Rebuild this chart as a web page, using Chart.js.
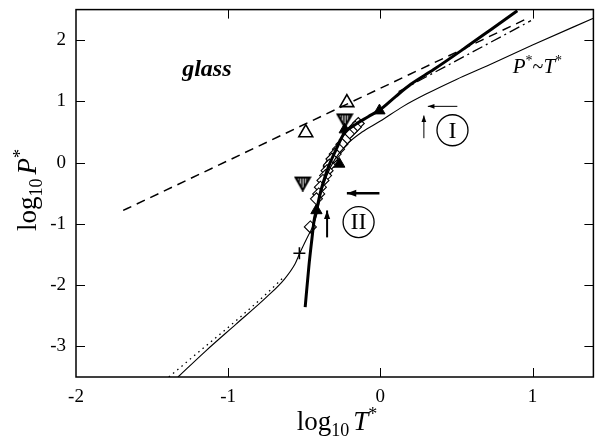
<!DOCTYPE html>
<html lang="en">
<head>
<meta charset="UTF-8">
<title>log P* vs log T*</title>
<style>
  html, body { margin: 0; padding: 0; background: #fff; }
  #wrap { width: 603px; height: 441px; }
</style>
</head>
<body>
<div id="wrap"><canvas id="chart" width="603" height="441"></canvas></div>
<script src="https://cdn.jsdelivr.net/npm/chart.js@4.4.0/dist/chart.umd.min.js"></script>
<script>
// tick labels
var xTicks = [-2, -1, 0, 1];
var yTicks = [-3, -2, -1, 0, 1, 2];

// thin solid curve
var thinX = [-1.33, -1.15, -0.95, -0.75, -0.63, -0.56, -0.53, -0.48, -0.448, -0.416, -0.39, -0.35, -0.3, -0.22, -0.12, 0.0, 0.15, 0.3, 0.5, 0.7, 1.0, 1.4];
var thinY = [-3.5, -3.08, -2.64, -2.2, -1.9, -1.65, -1.48, -1.22, -1.06, -0.83, -0.5, -0.2, 0.05, 0.3, 0.5, 0.68, 0.92, 1.12, 1.36, 1.58, 1.92, 2.36];

// dotted curve (low T)
var dotX = [-1.39, -1.15, -0.92, -0.74, -0.64];
var dotY = [-3.5, -3.0, -2.52, -2.12, -1.88];

// thick solid curve
var thickX = [-0.494, -0.47, -0.45, -0.435, -0.42, -0.39, -0.36, -0.33, -0.29, -0.24, -0.16, -0.08, 0.0, 0.1, 0.2, 0.35, 0.56, 0.73, 0.9];
var thickY = [-2.36, -1.7, -1.25, -0.94, -0.78, -0.45, -0.2, 0.0, 0.22, 0.47, 0.63, 0.75, 0.87, 1.08, 1.28, 1.52, 1.88, 2.18, 2.48];

// dashed line
var dashX = [-1.69, 0.97];
var dashY = [-0.78, 2.36];

// dash-dot line
var dashDotX = [0.12, 0.99];
var dashDotY = [1.16, 2.32];

// symbols
var diamondX = [-0.145, -0.165, -0.19, -0.21, -0.232, -0.253, -0.275, -0.297, -0.318, -0.335, -0.35, -0.36, -0.377, -0.394, -0.405, -0.42, -0.46];
var diamondY = [0.64, 0.58, 0.52, 0.47, 0.37, 0.3, 0.22, 0.14, 0.06, -0.04, -0.13, -0.21, -0.29, -0.4, -0.51, -0.59, -1.05];
var filledTriX = [-0.006, -0.234, -0.34, -0.27, -0.42];
var filledTriY = [0.85, 0.54, -0.02, -0.02, -0.78];
var openTriX = [-0.22, -0.49];
var openTriY = [0.98, 0.49];
var hatchTriX = [-0.234, -0.51];
var hatchTriY = [0.69, -0.34];
var plusX = [-0.532];
var plusY = [-1.48];

function pts(xs, ys) {
  return xs.map(function (x, i) { return { x: x, y: ys[i] }; });
}

// hatched down-pointing triangle as an image
function hatchTriangle() {
  var c = document.createElement('canvas');
  c.width = 18; c.height = 16;
  var g = c.getContext('2d');
  g.strokeStyle = '#000';
  g.lineWidth = 2.2;
  g.beginPath();
  g.moveTo(2, 2); g.lineTo(16, 2); g.lineTo(9, 14.5); g.closePath();
  g.stroke();
  g.lineWidth = 1.5;
  [[5.5, 6.5], [8, 11], [10.5, 11], [13, 6.5]].forEach(function (p) {
    g.beginPath();
    g.moveTo(p[0], 2);
    g.lineTo(p[0], p[1]);
    g.stroke();
  });
  return c;
}

var serif = '"Liberation Serif", "Times New Roman", serif';

function lineSet(xs, ys, width, dash) {
  return {
    type: 'line',
    data: pts(xs, ys),
    borderColor: '#000',
    borderWidth: width,
    borderDash: dash || [],
    pointRadius: 0,
    fill: false,
    cubicInterpolationMode: 'monotone',
    showLine: true
  };
}

function noPad(s) {
  s.paddingTop = 0; s.paddingBottom = 0; s.paddingLeft = 0; s.paddingRight = 0;
}

// annotations, axis titles, inward ticks and frame
var decor = {
  id: 'decor',
  afterDatasetsDraw: function (chart) {
    var ctx = chart.ctx, xs = chart.scales.x, ys = chart.scales.y, a = chart.chartArea;
    function X(v) { return xs.getPixelForValue(v); }
    function Y(v) { return ys.getPixelForValue(v); }
    ctx.save();
    ctx.strokeStyle = '#000';
    ctx.fillStyle = '#000';

    // frame
    ctx.lineWidth = 1.5;
    ctx.strokeRect(a.left, a.top, a.right - a.left, a.bottom - a.top);
    ctx.lineWidth = 1;
    xTicks.forEach(function (v) {
      var p = Math.round(X(v)) + 0.5;
      if (p <= a.left + 1) return;
      ctx.beginPath();
      ctx.moveTo(p, a.bottom); ctx.lineTo(p, a.bottom - 9);
      ctx.moveTo(p, a.top); ctx.lineTo(p, a.top + 9);
      ctx.stroke();
    });
    yTicks.forEach(function (v) {
      var p = Math.round(Y(v)) + 0.5;
      ctx.beginPath();
      ctx.moveTo(a.left, p); ctx.lineTo(a.left + 9, p);
      ctx.moveTo(a.right, p); ctx.lineTo(a.right - 9, p);
      ctx.stroke();
    });

    // text labels
    ctx.textBaseline = 'alphabetic';
    ctx.textAlign = 'center';
    ctx.font = 'italic bold 24px ' + serif;
    ctx.fillText('glass', X(-1.14), Y(1.42));

    // P*~T*
    var px = X(0.87), py = Y(1.47);
    ctx.textAlign = 'left';
    var parts = [['P', 'italic 21px', 0], ['*', '14px', -8], ['~', '20px', 0], ['T', 'italic 21px', 0], ['*', '14px', -8]];
    parts.forEach(function (p) {
      ctx.font = p[1] + ' ' + serif;
      ctx.fillText(p[0], px, py + p[2]);
      px += ctx.measureText(p[0]).width;
    });

    // arrows
    function arrow(x1, y1, x2, y2, w, head) {
      ctx.lineWidth = w;
      ctx.beginPath();
      ctx.moveTo(x1, y1); ctx.lineTo(x2, y2);
      ctx.stroke();
      var ang = Math.atan2(y2 - y1, x2 - x1);
      ctx.beginPath();
      ctx.moveTo(x2, y2);
      ctx.lineTo(x2 - head * Math.cos(ang - 0.35), y2 - head * Math.sin(ang - 0.35));
      ctx.lineTo(x2 - head * Math.cos(ang + 0.35), y2 - head * Math.sin(ang + 0.35));
      ctx.closePath();
      ctx.fill();
    }
    arrow(X(0.506), Y(0.92), X(0.312), Y(0.92), 1, 7);
    arrow(X(0.286), Y(0.40), X(0.286), Y(0.77), 1, 7);
    arrow(X(-0.006), Y(-0.5), X(-0.22), Y(-0.5), 2.5, 10);
    arrow(X(-0.35), Y(-1.22), X(-0.35), Y(-0.78), 2, 9);

    // circled labels
    function circled(cx, cy, txt) {
      ctx.lineWidth = 1.3;
      ctx.beginPath();
      ctx.arc(cx, cy, 15.5, 0, Math.PI * 2);
      ctx.stroke();
      ctx.font = '24px ' + serif;
      ctx.textAlign = 'center';
      ctx.textBaseline = 'middle';
      ctx.fillText(txt, cx, cy + 1);
      ctx.textBaseline = 'alphabetic';
    }
    circled(X(0.474), Y(0.53), 'I');
    circled(X(-0.143), Y(-0.97), 'II');

    // axis titles
    function title(segs, cx, base) {
      var w = 0;
      segs.forEach(function (s) { ctx.font = s[1] + ' ' + serif; w += ctx.measureText(s[0]).width + (s[3] || 0); });
      var x0 = cx - w / 2;
      ctx.textAlign = 'left';
      segs.forEach(function (s) {
        ctx.font = s[1] + ' ' + serif;
        ctx.fillText(s[0], x0, base + s[2]);
        x0 += ctx.measureText(s[0]).width + (s[3] || 0);
      });
    }
    title([['log', '27px', 0], ['10', '18px', 6, 4], ['T', 'italic 27px', 0], ['*', '18px', -10]], 337, 430);
    ctx.save();
    ctx.translate(36, 190);
    ctx.rotate(-Math.PI / 2);
    title([['log', '27px', 0], ['10', '18px', 6, 4], ['P', 'italic 27px', 0], ['*', '18px', -10]], 0, 0);
    ctx.restore();

    ctx.restore();
  }
};

new Chart(document.getElementById('chart'), {
  type: 'scatter',
  data: {
    datasets: [
      lineSet(dotX, dotY, 1.3, [1.5, 4]),
      lineSet(thinX, thinY, 1.1),
      lineSet(dashX, dashY, 1.5, [9, 6]),
      lineSet(dashDotX, dashDotY, 1.3, [11, 4, 2, 4]),
      lineSet(thickX, thickY, 3),
      { data: pts(diamondX, diamondY), pointStyle: 'rectRot', pointRadius: 6, backgroundColor: '#fff', borderColor: '#000', borderWidth: 1.1 },
      { data: pts(filledTriX, filledTriY), pointStyle: 'triangle', pointRadius: 6.5, backgroundColor: '#000', borderColor: '#000', borderWidth: 1 },
      { data: pts(openTriX, openTriY), pointStyle: 'triangle', pointRadius: 8, backgroundColor: '#fff', borderColor: '#000', borderWidth: 1.6 },
      { data: pts(hatchTriX, hatchTriY), pointStyle: hatchTriangle() },
      { data: pts(plusX, plusY), pointStyle: 'cross', pointRadius: 6, borderColor: '#000', borderWidth: 1.6 }
    ]
  },
  options: {
    responsive: false,
    animation: false,
    layout: { padding: { top: 8, right: 0, left: 0, bottom: 0 } },
    plugins: { legend: { display: false }, tooltip: { enabled: false } },
    scales: {
      x: {
        type: 'linear', min: -2, max: 1.4,
        afterBuildTicks: function (s) { s.ticks = xTicks.map(function (v) { return { value: v }; }); },
        afterFit: function (s) { s.height = 64; noPad(s); },
        grid: { display: false, drawTicks: false },
        border: { display: false },
        ticks: { color: '#000', padding: 9, maxRotation: 0, font: { family: serif, size: 19 }, callback: function (v) { return String(v); } }
      },
      y: {
        type: 'linear', min: -3.5, max: 2.5,
        afterBuildTicks: function (s) { s.ticks = yTicks.map(function (v) { return { value: v }; }); },
        afterFit: function (s) { s.width = 76; noPad(s); },
        grid: { display: false, drawTicks: false },
        border: { display: false },
        ticks: { color: '#000', padding: 10, font: { family: serif, size: 19 }, callback: function (v) { return String(v); } }
      }
    }
  },
  plugins: [decor]
});
</script>
</body>
</html>
